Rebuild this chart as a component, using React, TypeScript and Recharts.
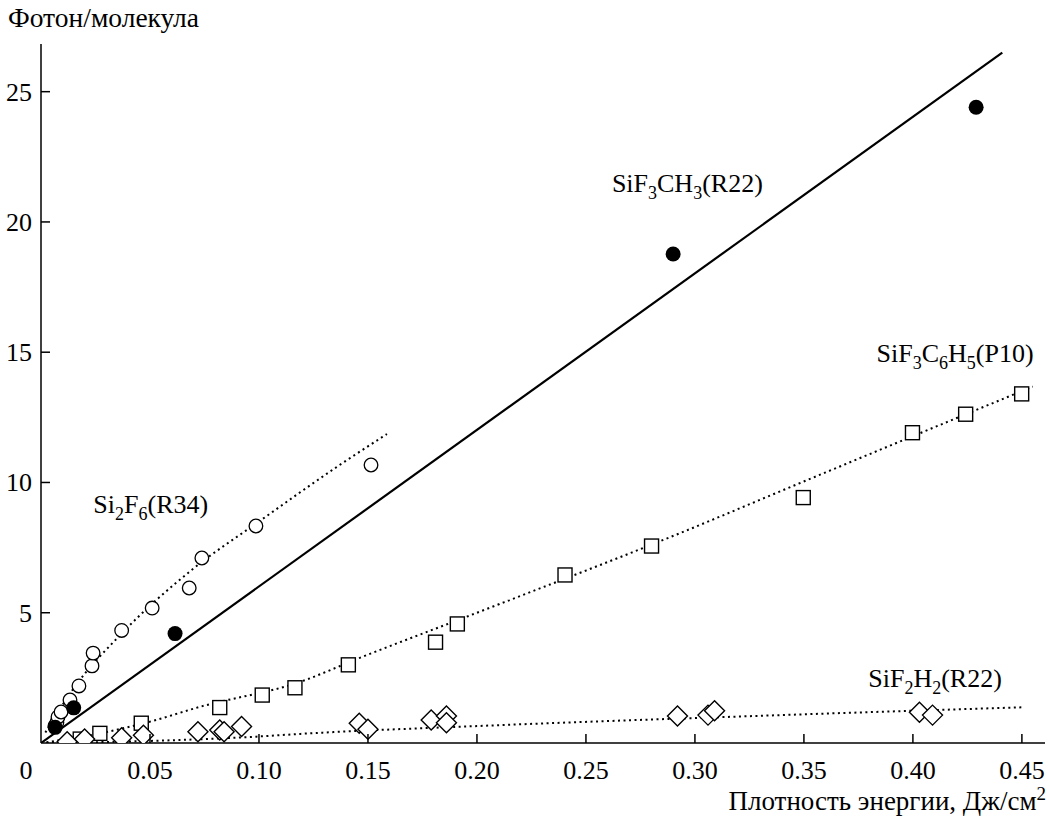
import { ComposedChart, Line, Scatter, XAxis, YAxis, ReferenceDot } from 'recharts'

// SiF3CH3 (R22) — filled circles + solid fit
const sif3ch3Points = [
  { x: 0.0065, y: 0.6 },
  { x: 0.015, y: 1.35 },
  { x: 0.0615, y: 4.2 },
  { x: 0.29, y: 18.77 },
  { x: 0.429, y: 24.4 },
]
const sif3ch3Fit = [
  { x: 0, y: 0 },
  { x: 0.441, y: 26.5 },
]

// Si2F6 (R34) — open circles
const si2f6Points = [
  { x: 0.0064, y: 0.65 },
  { x: 0.0073, y: 0.8 },
  { x: 0.0078, y: 1.0 },
  { x: 0.0092, y: 1.19 },
  { x: 0.0133, y: 1.65 },
  { x: 0.0174, y: 2.19 },
  { x: 0.0234, y: 2.96 },
  { x: 0.0239, y: 3.45 },
  { x: 0.037, y: 4.32 },
  { x: 0.051, y: 5.18 },
  { x: 0.068, y: 5.95 },
  { x: 0.0738, y: 7.1 },
  { x: 0.0986, y: 8.33 },
  { x: 0.1514, y: 10.67 },
]
const si2f6Fit = [
  { x: 0.002, y: 0.4 },
  { x: 0.015, y: 2.1 },
  { x: 0.037, y: 4.2 },
  { x: 0.07, y: 6.7 },
  { x: 0.1, y: 8.5 },
  { x: 0.137, y: 10.67 },
  { x: 0.1587, y: 11.86 },
]

// SiF3C6H5 (P10) — open squares
const sif3c6h5Points = [
  { x: 0.018, y: 0.15 },
  { x: 0.027, y: 0.37 },
  { x: 0.046, y: 0.76 },
  { x: 0.082, y: 1.36 },
  { x: 0.1015, y: 1.84 },
  { x: 0.1165, y: 2.12 },
  { x: 0.141, y: 3.0 },
  { x: 0.181, y: 3.87 },
  { x: 0.191, y: 4.57 },
  { x: 0.2404, y: 6.45 },
  { x: 0.2801, y: 7.56 },
  { x: 0.3497, y: 9.42 },
  { x: 0.3998, y: 11.91 },
  { x: 0.4242, y: 12.62 },
  { x: 0.4499, y: 13.4 },
]
const sif3c6h5Fit = [
  { x: 0, y: 0 },
  { x: 0.027, y: 0.37 },
  { x: 0.05, y: 0.82 },
  { x: 0.073, y: 1.39 },
  { x: 0.119, y: 2.35 },
  { x: 0.146, y: 3.26 },
  { x: 0.2, y: 5.0 },
  { x: 0.293, y: 8.05 },
  { x: 0.348, y: 9.97 },
  { x: 0.394, y: 11.57 },
  { x: 0.455, y: 13.68 },
]

// SiF2H2 (R22) — open diamonds
const sif2h2Points = [
  { x: 0.012, y: 0.05 },
  { x: 0.02, y: 0.15 },
  { x: 0.037, y: 0.2 },
  { x: 0.047, y: 0.3 },
  { x: 0.072, y: 0.43 },
  { x: 0.082, y: 0.5 },
  { x: 0.084, y: 0.43 },
  { x: 0.092, y: 0.63 },
  { x: 0.146, y: 0.76 },
  { x: 0.15, y: 0.53 },
  { x: 0.179, y: 0.88 },
  { x: 0.186, y: 1.04 },
  { x: 0.186, y: 0.78 },
  { x: 0.292, y: 1.04 },
  { x: 0.306, y: 1.07 },
  { x: 0.309, y: 1.24 },
  { x: 0.403, y: 1.18 },
  { x: 0.409, y: 1.07 },
]
const sif2h2Fit = [
  { x: 0, y: 0 },
  { x: 0.05, y: 0.08 },
  { x: 0.1, y: 0.25 },
  { x: 0.119, y: 0.35 },
  { x: 0.2, y: 0.65 },
  { x: 0.339, y: 1.07 },
  { x: 0.45, y: 1.37 },
]

const xTicks = [0, 0.05, 0.1, 0.15, 0.2, 0.25, 0.3, 0.35, 0.4, 0.45]
const yTicks = [5, 10, 15, 20, 25]

// series labels: [text, isSubscript]
const seriesLabels = [
  { x: 0.2619, y: 21.15, parts: [['SiF', 0], ['3', 1], ['CH', 0], ['3', 1], ['(R22)', 0]] },
  { x: 0.3833, y: 14.64, parts: [['SiF', 0], ['3', 1], ['C', 0], ['6', 1], ['H', 0], ['5', 1], ['(P10)', 0]] },
  { x: 0.024, y: 8.83, parts: [['Si', 0], ['2', 1], ['F', 0], ['6', 1], ['(R34)', 0]] },
  { x: 0.3795, y: 2.14, parts: [['SiF', 0], ['2', 1], ['H', 0], ['2', 1], ['(R22)', 0]] },
]

const FONT = '"Liberation Serif", "Times New Roman", serif'
const FS = 26

const XTick = ({ x, y, payload }: any) => {
  const v = payload.value
  if (v === 0) {
    return (
      <text x={x - 15} y={y + 36} textAnchor="middle" fontSize={FS} fontFamily={FONT} fill="#000">0</text>
    )
  }
  return (
    <g>
      <line x1={x} y1={y} x2={x} y2={y - 9} stroke="#000" strokeWidth={1.5} />
      <text x={x} y={y + 36} textAnchor="middle" fontSize={FS} fontFamily={FONT} fill="#000">
        {v.toFixed(2)}
      </text>
    </g>
  )
}

const YTick = ({ x, y, payload }: any) => (
  <g>
    <line x1={x} y1={y} x2={x + 9} y2={y} stroke="#000" strokeWidth={1.5} />
    <text x={x - 9} y={y + 9} textAnchor="end" fontSize={FS} fontFamily={FONT} fill="#000">
      {payload.value}
    </text>
  </g>
)

const FilledCircle = ({ cx, cy }: any) => <circle cx={cx} cy={cy} r={7.5} fill="#000" />
const OpenCircle = ({ cx, cy }: any) => (
  <circle cx={cx} cy={cy} r={6.8} fill="#fff" stroke="#000" strokeWidth={1.3} />
)
const OpenSquare = ({ cx, cy }: any) => (
  <rect x={cx - 7} y={cy - 7} width={14} height={14} fill="#fff" stroke="#000" strokeWidth={1.4} />
)
const OpenDiamond = ({ cx, cy }: any) => (
  <polygon
    points={`${cx},${cy - 10} ${cx + 10},${cy} ${cx},${cy + 10} ${cx - 10},${cy}`}
    fill="#fff"
    stroke="#000"
    strokeWidth={1.4}
  />
)

const makeLabel = (parts: any[]) => ({ cx, cy }: any) => (
  <text x={cx} y={cy} fontSize={FS} fontFamily={FONT} fill="#000">
    {parts.map(([t, sub]: any, i: number) => {
      const prevSub = i > 0 && parts[i - 1][1]
      let dy = 0
      if (sub && !prevSub) dy = 7
      if (!sub && prevSub) dy = -7
      return (
        <tspan key={i} dy={dy} fontSize={sub ? 18 : FS}>
          {t}
        </tspan>
      )
    })}
  </text>
)

const dotted = { stroke: '#000', strokeWidth: 2, strokeDasharray: '2 3.5' }

export default function App() {
  return (
    <div style={{ position: 'absolute', left: 0, top: 0, width: 1050, height: 816, background: '#fff' }}>
      <ComposedChart
        width={1050}
        height={816}
        margin={{ top: 44, right: 5, bottom: 72, left: 40 }}
        style={{ fontFamily: FONT }}
      >
        <XAxis
          type="number"
          dataKey="x"
          domain={[0, 0.4606]}
          ticks={xTicks}
          interval={0}
          allowDataOverflow
          height={1}
          tickSize={0}
          tickMargin={0}
          tickLine={false}
          tick={<XTick />}
          axisLine={{ stroke: '#000', strokeWidth: 1.5 }}
        />
        <YAxis
          type="number"
          dataKey="y"
          domain={[0, 26.83]}
          ticks={yTicks}
          interval={0}
          allowDataOverflow
          width={1}
          tickSize={0}
          tickMargin={0}
          tickLine={false}
          tick={<YTick />}
          axisLine={{ stroke: '#000', strokeWidth: 1.5 }}
        />
        <Line data={sif3ch3Fit} dataKey="y" type="linear" stroke="#000" strokeWidth={2.2} dot={false} activeDot={false} isAnimationActive={false} />
        <Line data={si2f6Fit} dataKey="y" type="monotone" {...dotted} dot={false} activeDot={false} isAnimationActive={false} />
        <Line data={sif3c6h5Fit} dataKey="y" type="monotone" {...dotted} dot={false} activeDot={false} isAnimationActive={false} />
        <Line data={sif2h2Fit} dataKey="y" type="monotone" {...dotted} dot={false} activeDot={false} isAnimationActive={false} />
        <Scatter data={sif3c6h5Points} dataKey="y" shape={<OpenSquare />} isAnimationActive={false} />
        <Scatter data={sif2h2Points} dataKey="y" shape={<OpenDiamond />} isAnimationActive={false} />
        <Scatter data={si2f6Points} dataKey="y" shape={<OpenCircle />} isAnimationActive={false} />
        <Scatter data={sif3ch3Points} dataKey="y" shape={<FilledCircle />} isAnimationActive={false} />
        {seriesLabels.map((l, i) => (
          <ReferenceDot key={i} x={l.x} y={l.y} r={0} shape={makeLabel(l.parts)} />
        ))}
      </ComposedChart>
      <svg width={1050} height={816} style={{ position: 'absolute', left: 0, top: 0, pointerEvents: 'none' }}>
        <text x={8} y={27} fontSize={27.5} fontFamily={FONT} fill="#000">Фотон/молекула</text>
        <text x={1046} y={810} textAnchor="end" fontSize={27} fontFamily={FONT} fill="#000">
          Плотность энергии, Дж/см
          <tspan dy={-10} fontSize={19}>2</tspan>
        </text>
      </svg>
    </div>
  )
}
